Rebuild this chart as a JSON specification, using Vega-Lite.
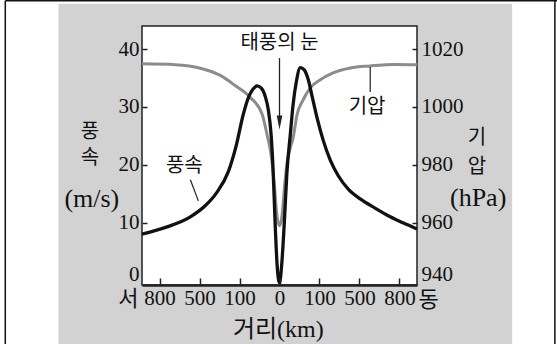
{
  "$schema": "https://vega.github.io/schema/vega-lite/v6.json",
  "width": 275,
  "height": 259,
  "autosize": {"type": "none"},
  "padding": {"left": 142, "top": 26, "right": 140, "bottom": 59},
  "background": "white",
  "config": {
    "font": "Liberation Serif",
    "view": {"stroke": null},
    "axis": {
      "grid": false,
      "title": null,
      "labelFont": "Liberation Serif",
      "labelFontSize": 21,
      "labelColor": "#111111",
      "tickColor": "#222222",
      "tickWidth": 1.5,
      "labelFlush": false,
      "labelOverlap": false,
      "labelBound": false
    }
  },
  "datasets": {
    "panel": [
      {"part": "sheet", "x": -5.53, "x2": 5.82, "y": 47.84, "y2": -12},
      {"part": "plot", "x": -3.44, "x2": 3.44, "y": -0.8, "y2": 44},
      {"part": "edge", "x": -6.86, "x2": -6.86, "y": -12, "y2": 48.36},
      {"part": "edge", "x": -6.86, "x2": 7.2, "y": 48.36, "y2": 48.36},
      {"part": "edge", "x": 6.89, "x2": 6.89, "y": -12, "y2": 48.36}
    ],
    "pressure": [
      {"x": -3.44, "hpa": 1014.9},
      {"x": -2.61, "hpa": 1014.6},
      {"x": -1.98, "hpa": 1013.4},
      {"x": -1.48, "hpa": 1010.9},
      {"x": -1.11, "hpa": 1007.4},
      {"x": -0.73, "hpa": 1003.3},
      {"x": -0.43, "hpa": 997.3},
      {"x": -0.31, "hpa": 990.3},
      {"x": -0.21, "hpa": 983.4},
      {"x": -0.13, "hpa": 973.0},
      {"x": -0.06, "hpa": 961.9},
      {"x": 0, "hpa": 958.9},
      {"x": 0.06, "hpa": 961.9},
      {"x": 0.13, "hpa": 973.0},
      {"x": 0.19, "hpa": 980.7},
      {"x": 0.27, "hpa": 985.8},
      {"x": 0.34, "hpa": 989.3},
      {"x": 0.44, "hpa": 997.4},
      {"x": 0.59, "hpa": 1002.4},
      {"x": 0.77, "hpa": 1006.6},
      {"x": 1.02, "hpa": 1009.4},
      {"x": 1.34, "hpa": 1011.8},
      {"x": 1.77, "hpa": 1013.5},
      {"x": 2.27, "hpa": 1014.2},
      {"x": 2.87, "hpa": 1014.7},
      {"x": 3.44, "hpa": 1014.6}
    ],
    "speed": [
      {"x": -3.44, "ms": 8.0},
      {"x": -2.81, "ms": 9.26},
      {"x": -2.23, "ms": 10.99},
      {"x": -1.86, "ms": 12.9},
      {"x": -1.58, "ms": 15.1},
      {"x": -1.28, "ms": 18.8},
      {"x": -1.08, "ms": 23.4},
      {"x": -0.91, "ms": 28.6},
      {"x": -0.76, "ms": 31.9},
      {"x": -0.66, "ms": 33.1},
      {"x": -0.56, "ms": 33.65},
      {"x": -0.46, "ms": 33.3},
      {"x": -0.36, "ms": 31.9},
      {"x": -0.28, "ms": 29.5},
      {"x": -0.21, "ms": 25.2},
      {"x": -0.16, "ms": 19.1},
      {"x": -0.11, "ms": 9.95},
      {"x": -0.06, "ms": 2.7},
      {"x": 0, "ms": -0.4},
      {"x": 0.055, "ms": 2.7},
      {"x": 0.12, "ms": 9.95},
      {"x": 0.185, "ms": 18.6},
      {"x": 0.27, "ms": 25.2},
      {"x": 0.34, "ms": 30.4},
      {"x": 0.42, "ms": 34.3},
      {"x": 0.52, "ms": 36.8},
      {"x": 0.62, "ms": 36.4},
      {"x": 0.72, "ms": 34.7},
      {"x": 0.82, "ms": 31.7},
      {"x": 0.94, "ms": 28.1},
      {"x": 1.09, "ms": 24.3},
      {"x": 1.27, "ms": 20.8},
      {"x": 1.47, "ms": 18.1},
      {"x": 1.72, "ms": 15.8},
      {"x": 2.02, "ms": 14.1},
      {"x": 2.39, "ms": 12.5},
      {"x": 2.77, "ms": 11.0},
      {"x": 3.09, "ms": 9.95},
      {"x": 3.44, "ms": 8.9}
    ],
    "arrow": [
      {"x": 0, "y": 38.45, "y2": 27.3}
    ],
    "leaders": [
      {"x": 2.27, "x2": 2.27, "y": 36.9, "y2": 32.6},
      {"x": -2.23, "x2": -2.03, "y": 17.4, "y2": 13.75}
    ],
    "labels": [
      {"role": "note", "text": "태풍의 눈", "x": 0, "y": 41.1},
      {"role": "note", "text": "기압", "x": 2.19, "y": 30.0},
      {"role": "note", "text": "풍속", "x": -2.38, "y": 19.8},
      {"role": "axisName", "text": "풍", "x": -4.745, "y": 25.7},
      {"role": "axisName", "text": "속", "x": -4.745, "y": 21.1},
      {"role": "axisName", "text": "기", "x": 4.94, "y": 24.6},
      {"role": "axisName", "text": "압", "x": 4.94, "y": 19.6},
      {"role": "unit", "text": "(m/s)", "x": -4.695, "y": 14.1},
      {"role": "unit", "text": "(hPa)", "x": 4.97, "y": 14.3},
      {"role": "side", "text": "서", "x": -3.78, "y": -3.3},
      {"role": "side", "text": "동", "x": 3.73, "y": -3.37},
      {"role": "xName", "text": "거리(km)", "x": -0.03, "y": -8.56}
    ]
  },
  "layer": [
    {
      "data": {"name": "panel"},
      "encoding": {
        "x": {
          "field": "x",
          "type": "quantitative",
          "scale": {"domain": [-3.44, 3.44], "nice": false, "zero": false},
          "axis": {
            "orient": "bottom",
            "zindex": 2,
            "values": [-3, -2, -1, 0, 1, 2, 3],
            "labelExpr": "datum.value == 0 ? '0' : abs(datum.value) == 1 ? '100' : abs(datum.value) == 2 ? '500' : '800'",
            "labelFont": "Liberation Serif",
            "labelFontSize": 21,
            "tickSize": -7,
            "labelPadding": 20,
            "labelBaseline": "middle",
            "domain": true,
            "domainColor": "#222222",
            "domainWidth": 2.5
          }
        },
        "x2": {"field": "x2"},
        "y": {
          "field": "y",
          "type": "quantitative",
          "scale": {"domain": [-0.8, 44], "nice": false, "zero": false},
          "axis": {
            "orient": "left",
            "zindex": 2,
            "values": [0, 10, 20, 30, 40],
            "format": "d",
            "labelFont": "Liberation Serif",
            "labelFontSize": 21,
            "tickSize": -5,
            "labelPadding": 8,
            "domain": false,
            "labelBaseline": {"condition": {"test": "datum.value == 0", "value": "alphabetic"}, "value": "middle"},
            "tickOpacity": {"condition": {"test": "datum.value == 0", "value": 0}, "value": 1}
          }
        },
        "y2": {"field": "y2"}
      },
      "layer": [
        {
          "transform": [{"filter": "datum.part == 'sheet'"}],
          "mark": {"type": "rect", "fill": "#d2d2d2"}
        },
        {
          "transform": [{"filter": "datum.part == 'plot'"}],
          "mark": {"type": "rect", "fill": "white", "stroke": "#222222", "strokeWidth": 1.5}
        },
        {
          "transform": [{"filter": "datum.part == 'edge'"}],
          "mark": {"type": "rule", "stroke": "#111111", "strokeWidth": 1.5}
        }
      ]
    },
    {
      "data": {"name": "pressure"},
      "mark": {"type": "line", "interpolate": "monotone", "stroke": "#8c8c8c", "strokeWidth": 3},
      "encoding": {
        "x": {"field": "x", "type": "quantitative", "scale": {"domain": [-3.44, 3.44], "nice": false, "zero": false}},
        "y": {
          "field": "hpa",
          "type": "quantitative",
          "scale": {"domain": [938.4, 1028], "nice": false, "zero": false},
          "axis": {
            "orient": "right",
            "zindex": 2,
            "values": [940, 960, 980, 1000, 1020],
            "format": "d",
            "labelFont": "Liberation Serif",
            "labelFontSize": 21,
            "tickSize": -5,
            "labelPadding": 9,
            "domain": false,
            "labelBaseline": {"condition": {"test": "datum.value == 940", "value": "alphabetic"}, "value": "middle"},
            "tickOpacity": {"condition": {"test": "datum.value == 940", "value": 0}, "value": 1}
          }
        }
      }
    },
    {
      "encoding": {
        "x": {"field": "x", "type": "quantitative", "scale": {"domain": [-3.44, 3.44], "nice": false, "zero": false}},
        "y": {"type": "quantitative", "scale": {"domain": [-0.8, 44], "nice": false, "zero": false}, "axis": null}
      },
      "layer": [
        {
          "data": {"name": "speed"},
          "mark": {"type": "line", "interpolate": "monotone", "stroke": "#111111", "strokeWidth": 3.3},
          "encoding": {"y": {"field": "ms", "type": "quantitative"}}
        },
        {
          "data": {"name": "leaders"},
          "mark": {"type": "rule", "stroke": "#222222", "strokeWidth": 1.2},
          "encoding": {"y": {"field": "y", "type": "quantitative"}, "x2": {"field": "x2"}, "y2": {"field": "y2"}}
        },
        {
          "data": {"name": "arrow"},
          "mark": {"type": "rule", "stroke": "#222222", "strokeWidth": 1.3},
          "encoding": {"y": {"field": "y", "type": "quantitative"}, "y2": {"field": "y2"}}
        },
        {
          "data": {"name": "arrow"},
          "mark": {"type": "point", "shape": "M-0.4,-1L0.4,-1L0,1Z", "size": 196, "filled": true, "fill": "#222222", "opacity": 1, "strokeWidth": 0},
          "encoding": {"y": {"field": "y2", "type": "quantitative"}}
        },
        {
          "data": {"name": "labels"},
          "transform": [{"filter": "datum.role == 'note'"}],
          "mark": {"type": "text", "font": "Noto Sans CJK KR", "fontSize": 20, "fill": "#111111", "align": "center", "baseline": "middle"},
          "encoding": {"y": {"field": "y", "type": "quantitative"}, "text": {"field": "text"}}
        },
        {
          "data": {"name": "labels"},
          "transform": [{"filter": "datum.role == 'axisName'"}],
          "mark": {"type": "text", "font": "Noto Sans CJK KR", "fontSize": 20, "fill": "#111111", "align": "center", "baseline": "middle"},
          "encoding": {"y": {"field": "y", "type": "quantitative"}, "text": {"field": "text"}}
        },
        {
          "data": {"name": "labels"},
          "transform": [{"filter": "datum.role == 'unit'"}],
          "mark": {"type": "text", "font": "Liberation Serif", "fontSize": 26, "fill": "#111111", "align": "center", "baseline": "middle"},
          "encoding": {"y": {"field": "y", "type": "quantitative"}, "text": {"field": "text"}}
        },
        {
          "data": {"name": "labels"},
          "transform": [{"filter": "datum.role == 'side'"}],
          "mark": {"type": "text", "font": "Noto Sans CJK KR", "fontSize": 22, "fill": "#111111", "align": "center", "baseline": "middle"},
          "encoding": {"y": {"field": "y", "type": "quantitative"}, "text": {"field": "text"}}
        },
        {
          "data": {"name": "labels"},
          "transform": [{"filter": "datum.role == 'xName'"}],
          "mark": {"type": "text", "font": "Liberation Serif, Noto Sans CJK KR", "fontSize": 24, "fill": "#111111", "align": "center", "baseline": "middle"},
          "encoding": {"y": {"field": "y", "type": "quantitative"}, "text": {"field": "text"}}
        }
      ]
    }
  ],
  "resolve": {"scale": {"y": "independent"}, "axis": {"y": "independent"}}
}
